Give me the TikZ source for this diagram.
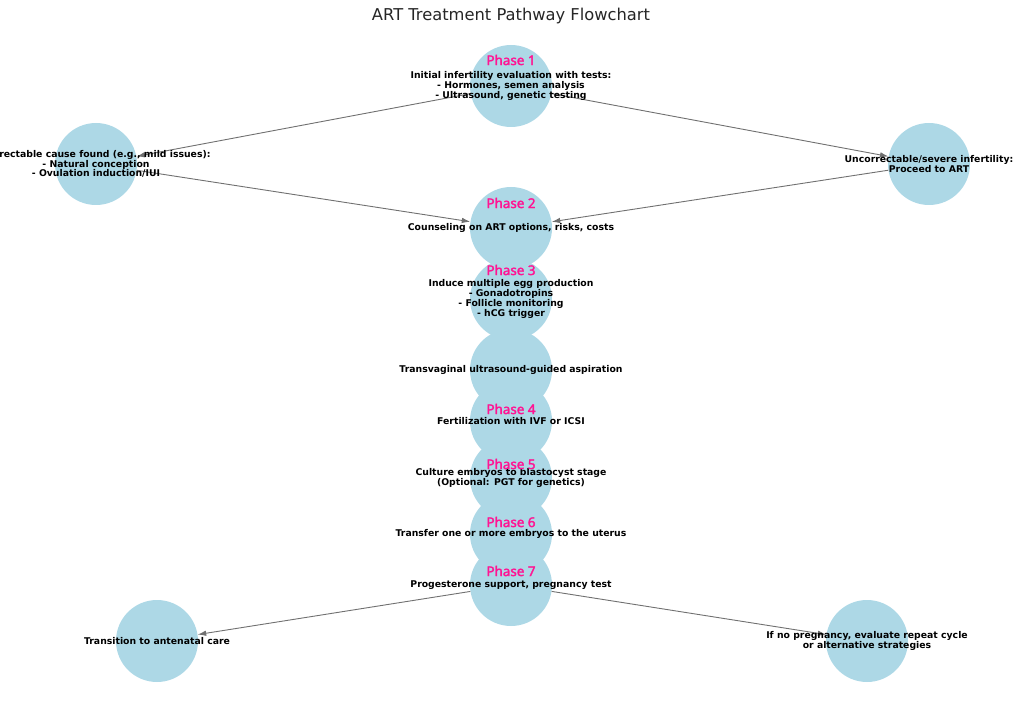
\documentclass[tikz,border=0pt]{standalone}
\usepackage{fontspec}
\setmainfont{DejaVu Sans}
\newfontfamily\phasefont{Noto Sans}[FakeBold=2.2]
\usetikzlibrary{arrows.meta}
\definecolor{nodeblue}{HTML}{ADD8E6}
\definecolor{phasepink}{HTML}{FF1493}
\definecolor{edgegray}{HTML}{707070}
\definecolor{titlegray}{HTML}{262626}
\begin{document}
\begin{tikzpicture}[x=1pt,y=-1pt,
  circ/.style={circle,fill=nodeblue,minimum size=82pt,inner sep=0pt},
  txt/.style={font=\fontsize{9.3}{9.7}\selectfont\bfseries,align=center,inner sep=0pt,text=black},
  phase/.style={font=\phasefont\fontsize{13.4}{14}\selectfont,text=phasepink,inner sep=0pt},
  edge/.style={draw=edgegray,line width=0.9pt,-{Latex[length=8.5pt,width=5.5pt]}}]
\clip (0,0) rectangle (1024,708);
\useasboundingbox (0,0) rectangle (1024,708);
% circles
\node[circ] (p1) at (511,86) {};
\node[circ] (left) at (96,164) {};
\node[circ] (right) at (929,164) {};
\node[circ] (p2) at (511,228) {};
\node[circ] (p3) at (511,299) {};
\node[circ] (asp) at (511,370) {};
\node[circ] (p4) at (511,421) {};
\node[circ] (p5) at (511,478) {};
\node[circ] (p6) at (511,534) {};
\node[circ] (p7) at (511,585) {};
\node[circ] (ant) at (157,641) {};
\node[circ] (rep) at (867,641) {};
% edges
\draw[edge] (p1) -- (left);
\draw[edge] (p1) -- (right);
\draw[edge] (left) -- (p2);
\draw[edge] (right) -- (p2);
\draw[edge] (p7) -- (ant);
\draw[edge] (p7) -- (rep);
% texts
\node[txt] (t1) at (p1) {Initial infertility evaluation with tests:\\- Hormones, semen analysis\\- Ultrasound, genetic testing};
\node[txt] (tl) at (left) {Correctable cause found (e.g., mild issues):\\- Natural conception\\- Ovulation induction/IUI};
\node[txt] (tr) at (right) {Uncorrectable/severe infertility:\\Proceed to ART};
\node[txt] (t2) at (p2) {Counseling on ART options, risks, costs};
\node[txt] (t3) at (p3) {Induce multiple egg production\\- Gonadotropins\\- Follicle monitoring\\- hCG trigger};
\node[txt] (ta) at (asp) {Transvaginal ultrasound-guided aspiration};
\node[txt] (t4) at (p4) {Fertilization with IVF or ICSI};
\node[txt] (t5) at (p5) {Culture embryos to blastocyst stage\\(Optional: PGT for genetics)};
\node[txt] (t6) at (p6) {Transfer one or more embryos to the uterus};
\node[txt] (t7) at (p7) {Progesterone support, pregnancy test};
\node[txt] (tant) at (ant) {Transition to antenatal care};
\node[txt] (trep) at (rep) {If no pregnancy, evaluate repeat cycle\\or alternative strategies};
% phase labels
\node[phase] (l1) at (511,60) {Phase 1};
\node[phase] (l2) at (511,203) {Phase 2};
\node[phase] (l3) at (511,270) {Phase 3};
\node[phase] (l4) at (511,409) {Phase 4};
\node[phase] (l5) at (511,464) {Phase 5};
\node[phase] (l6) at (511,522) {Phase 6};
\node[phase] (l7) at (511,571) {Phase 7};
% title
\node[font=\fontsize{16.3}{18}\selectfont,text=titlegray] (title) at (511,16) {ART Treatment Pathway Flowchart};
\end{tikzpicture}
\end{document}
